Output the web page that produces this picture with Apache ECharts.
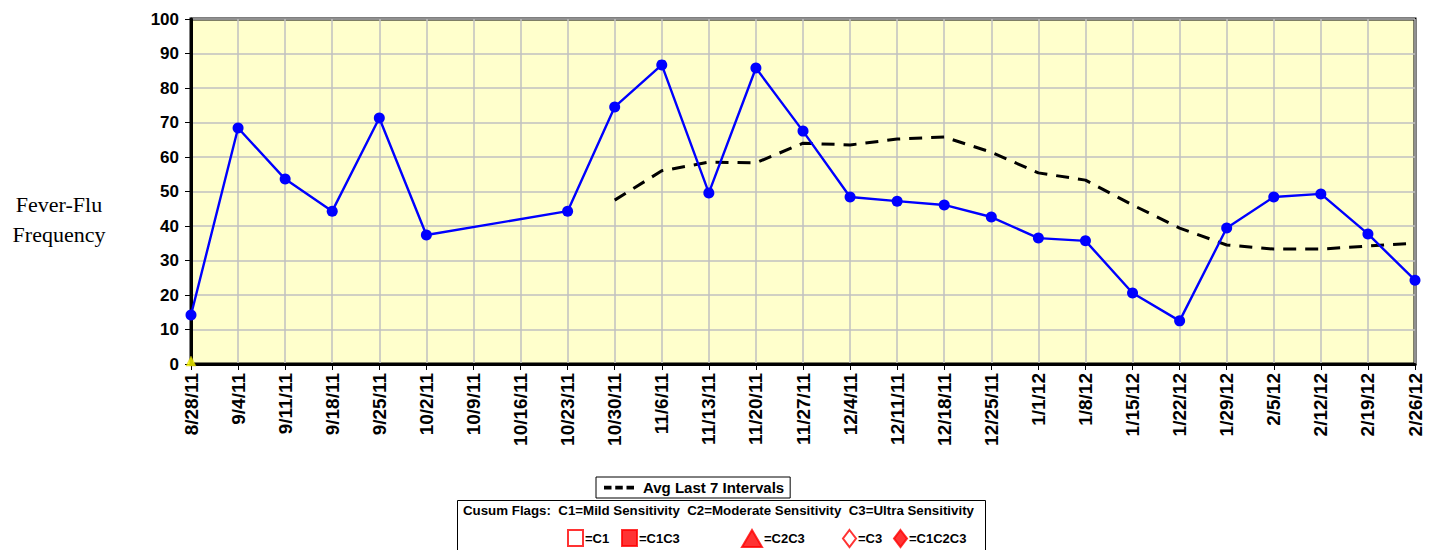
<!DOCTYPE html>
<html>
<head>
<meta charset="utf-8">
<script src="https://cdn.jsdelivr.net/npm/echarts@6/dist/echarts.min.js"></script>
<style>
  html, body { margin: 0; padding: 0; background: #fff; }
  #chart { width: 1432px; height: 550px; }
</style>
</head>
<body>
<div id="chart"></div>
<script>
// weeks
var weeks = ['8/28/11', '9/4/11', '9/11/11', '9/18/11', '9/25/11', '10/2/11', '10/9/11', '10/16/11',
  '10/23/11', '10/30/11', '11/6/11', '11/13/11', '11/20/11', '11/27/11', '12/4/11', '12/11/11',
  '12/18/11', '12/25/11', '1/1/12', '1/8/12', '1/15/12', '1/22/12', '1/29/12', '2/5/12',
  '2/12/12', '2/19/12', '2/26/12'];

// weekly counts (no data for 10/9 and 10/16)
var freq = [14.2, 68.4, 53.6, 44.3, 71.3, 37.4, null, null,
  44.3, 74.5, 86.7, 49.6, 85.8, 67.5, 48.4, 47.2,
  46.1, 42.6, 36.5, 35.7, 20.6, 12.5, 39.4, 48.4,
  49.3, 37.7, 24.3];

// avg of last 7 intervals
var avg7 = [null, null, null, null, null, null, null, null,
  null, 47.5, 56.0, 58.5, 58.3, 64.0, 63.5, 65.2,
  65.8, 61.4, 55.4, 53.3, 46.1, 39.4, 34.5, 33.3,
  33.3, 34.2, 35.0];

// flag marker shown at first week
var flagYellow = [['8/28/11', 0]];

var yTicks = [0, 10, 20, 30, 40, 50, 60, 70, 80, 90, 100];

var myChart = echarts.init(document.getElementById('chart'), null, { renderer: 'svg' });

var flagNames = ['=C1', '=C1C3', '=C2C3', '=C3', '=C1C2C3'];
var flagIcons = ['rect', 'rect', 'triangle', 'diamond', 'diamond'];
var flagFill = ['#fff', '#ff0000', '#ff0000', '#fff', '#ff0000'];
var flagLeft = [567, 621, 741, 842, 893];
var flagSize = [[15, 16], [15, 16], [20, 17], [13, 17], [13, 17]];

var flagLegends = flagNames.map(function (n, i) {
  return {
    data: [{ name: n, icon: flagIcons[i] }],
    left: flagLeft[i],
    top: 529,
    padding: 0,
    itemWidth: flagSize[i][0],
    itemHeight: flagSize[i][1],
    selectedMode: false,
    textStyle: { fontFamily: 'Arial', fontWeight: 'bold', fontSize: 13, color: '#000', padding: [0, 0, 0, -3] }
  };
});

var flagSeries = flagNames.map(function (n, i) {
  return {
    name: n,
    type: 'scatter',
    data: [],
    itemStyle: { color: flagFill[i], borderColor: '#ff0000', borderWidth: 1 }
  };
});

var option = {
  animation: false,
  grid: {
    left: 191,
    right: 17,
    top: 19,
    bottom: 186,
    show: true,
    backgroundColor: '#ffffcc',
    borderColor: '#000',
    borderWidth: 3
  },
  legend: [{
    data: [{
      name: 'Avg Last 7 Intervals',
      icon: 'path://M0,0h8v4h-8z M12,0h8v4h-8z M24,0h8v4h-8z'
    }],
    left: 596,
    top: 477,
    itemWidth: 30,
    itemHeight: 4,
    itemGap: 6,
    padding: [3, 6, 3, 8],
    borderColor: '#000',
    borderWidth: 1,
    selectedMode: false,
    itemStyle: { color: '#000' },
    textStyle: { fontFamily: 'Arial', fontWeight: 'bold', fontSize: 15, color: '#000', padding: [0, 0, 0, 4] }
  }].concat(flagLegends),
  graphic: [
    {
      type: 'rect',
      shape: { x: 457.5, y: 500.5, width: 528, height: 60 },
      style: { fill: '#fff', stroke: '#000', lineWidth: 1 },
      z: -1
    },
    {
      type: 'text',
      left: 463,
      top: 504,
      style: {
        text: 'Cusum Flags:  C1=Mild Sensitivity  C2=Moderate Sensitivity  C3=Ultra Sensitivity',
        font: 'bold 13.3px Arial',
        fill: '#000'
      }
    },
    {
      type: 'text',
      x: 59,
      y: 189,
      style: {
        text: 'Fever-Flu\nFrequency',
        font: '22px "Liberation Serif"',
        fill: '#000',
        align: 'center',
        verticalAlign: 'top',
        lineHeight: 30
      }
    }
  ],
  xAxis: {
    type: 'category',
    data: weeks,
    boundaryGap: false,
    axisLine: { lineStyle: { color: '#000', width: 3 } },
    axisTick: { show: true, length: 6, lineStyle: { color: '#000', width: 1 } },
    axisLabel: {
      rotate: 90,
      interval: 0,
      margin: 9,
      color: '#000',
      fontFamily: 'Arial',
      fontWeight: 'bold',
      fontSize: 19
    },
    splitLine: { show: true, lineStyle: { color: '#c0c0c0', width: 1.5 } }
  },
  yAxis: {
    type: 'value',
    min: yTicks[0],
    max: yTicks[yTicks.length - 1],
    interval: 10,
    axisLine: { show: true, lineStyle: { color: '#000', width: 3 } },
    axisTick: { show: true, length: 6, lineStyle: { color: '#000', width: 1 } },
    axisLabel: {
      margin: 12,
      color: '#000',
      fontFamily: 'Arial',
      fontWeight: 'bold',
      fontSize: 17
    },
    splitLine: { show: true, lineStyle: { color: '#c0c0c0', width: 1.5 } }
  },
  series: [
    {
      name: 'Fever-Flu',
      type: 'line',
      data: freq,
      connectNulls: true,
      symbol: 'circle',
      symbolSize: 11,
      lineStyle: { color: '#0000ff', width: 2.4 },
      itemStyle: { color: '#0000ff' },
      z: 3
    },
    {
      name: 'Avg Last 7 Intervals',
      type: 'line',
      data: avg7,
      symbol: 'none',
      lineStyle: { color: '#000', width: 3, type: [13, 9] },
      itemStyle: { color: '#000' },
      z: 2
    },
    {
      name: 'flag',
      type: 'scatter',
      data: flagYellow,
      symbol: 'triangle',
      symbolSize: 10,
      symbolOffset: [0, -3],
      itemStyle: { color: '#ffff00', borderColor: '#c8b400', borderWidth: 0.5 },
      z: 4
    }
  ].concat(flagSeries)
};

myChart.setOption(option);
</script>
</body>
</html>
